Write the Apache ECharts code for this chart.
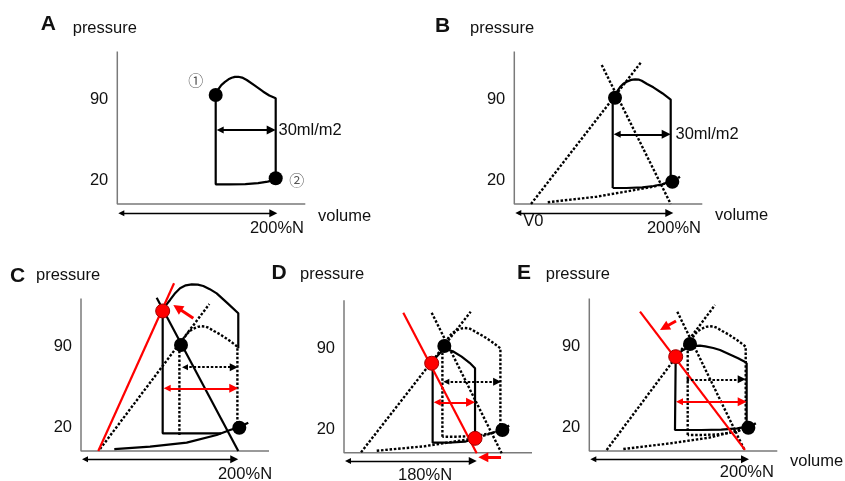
<!DOCTYPE html>
<html>
<head>
<meta charset="utf-8">
<script src="https://cdn.jsdelivr.net/npm/echarts@6.0.0/dist/echarts.min.js"></script>
<style>
html, body { margin: 0; padding: 0; background: #fff; }
#chart { width: 845px; height: 481px; }
</style>
</head>
<body>
<div id="chart"></div>
<script>
// pressure ticks shown on every panel
const yTicks = [20, 90]

// A : baseline loop
const loopA = [[123,94],[126,98.5],[130,102.5],[134.6,105.3],[139,107.5],[143,108.8],[147,109.6],[151.3,109.7],[156,109],[161.8,106.9],[172,102],[182.5,96.8],[190,93.5],[198,91.1],[198,21],[188,19.3],[176,18],[160,17.2],[140,17],[123,17],[123,94]]
const dotsA = [[123,94],[198,22.2]]
const svA = [[123,63.8],[198,63.8]]
const baseA = [[0,-8],[200,-8]]
const labelsA = [[199.6,-21.1,'200%N']]
const marksA = [[98,106.9,'①'],[224.3,20.7,'②']]
const svTextA = [[200.9,63.8,'30ml/m2']]

// reference loop (B, and dotted in C/D/E)
const refLoopTop = [[123,13.8],[123,90],[125,92],[128,96.5],[132,100.6],[136,103.5],[140.5,105.4],[146,107],[151,107.5],[156,107.2],[159.3,106.3],[166,103.5],[173.8,100.6],[185,95.5],[195.5,90],[195.5,19.5]]
const refLoopBottom = [[195.5,19.5],[185,17],[174,15.5],[160,14.3],[140,13.8],[123,13.8]]

// B
const dotsB = [[125.9,91.6],[197.5,19.2]]
const espvrB = [[20.9,0],[158,121.8]]
const eaB = [[109.3,119.8],[195.5,0]]
const edpvrB = [[41.8,1.5],[103,6.3],[173.8,14.9],[197.5,19.2],[207.1,23.5]]
const svB = [[123,60.1],[195.5,60.1]]
const baseB = [[0,-7.8],[198.8,-7.8]]
const labelsB = [[23.8,-14.7,'V0'],[199.6,-20.7,'200%N']]
const svTextB = [[200.9,60.1,'30ml/m2']]

// C : higher contractility
const loopC = [[196.6,88.5],[196.6,118.7],[183,127.5],[169.6,135.9],[161,139.5],[152.9,142.2],[146,143.4],[138.4,143.7],[131,142.8],[123.8,140.3],[117,135.5],[111.3,130.2],[106,125.5],[102.1,120.7],[102.1,15.2],[175,15.2]]
const edpvrC = [[41.6,1.7],[86.3,3.7],[132.1,7.2],[169.6,13.8],[186.3,18.1],[197.9,20.6],[209.1,24.4]]
const espvrC = [[21.6,0],[116.3,144.6]]
const espvrOldC = [[23.8,1.7],[160.4,126.7]]
const eaC = [[94.6,132.2],[196.6,0]]
const dotsC = [[125,91.4],[197.9,20.1]]
const redDotsC = [[102.1,120.7]]
const svOldC = [[125,72.2],[195.9,72.2]]
const svNewC = [[102.1,54],[196.6,54]]
const shiftC = [[140.4,114.4],[115.4,125.9]]
const baseC = [[0,-7.2],[196.6,-7.2]]
const labelsC = [[205,-19.8,'200%N']]

// D : lower preload
const loopD = [[109.6,77.1],[116,83],[122,87.5],[129,89],[136,87.5],[147,82.8],[157,77.5],[163.8,72.8],[163.8,12.4],[151.3,9.5],[130,8.6],[110.8,8.6],[110.8,77]]
const espvrD = [[21.3,0.3],[158.4,121.6]]
const eaD = [[74.1,120.7],[165.9,-0.5]]
const eaOldD = [[109.6,120.7],[197.1,-0.5]]
const edpvrD = [[40.9,1.7],[100,5.5],[163.8,12.4],[198,19.6],[207.5,23.9]]
const dotsD = [[125.4,92],[198,19.6]]
const redDotsD = [[109.6,77.1],[163.8,12.4]]
const svOldD = [[122.9,61.2],[196.4,61.2]]
const svNewD = [[110.9,43.4],[163.8,43.4]]
const shiftD = [[196.3,-4],[167.9,-4]]
const baseD = [[0,-7.2],[165.9,-7.2]]
const labelsD = [[101.3,-19.2,'180%N']]

// E : lower afterload
const loopE = [[196.7,76.1],[186,80],[175,83.5],[163.4,87.1],[155,88.8],[145,90.2],[138.4,90.8],[132,90.6],[126.7,90],[122,88.8],[117.5,87.1],[112,84.5],[108,81.3],[107.1,81.3],[107.1,18.1],[140,18.1],[165,18.5],[185,19.5],[196.7,21],[196.7,76.1]]
const espvrE = [[21.7,0.9],[157.1,125.9]]
const eaE = [[63.4,120.1],[194.6,0.9]]
const eaOldE = [[110,120.1],[194.6,0]]
const edpvrE = [[42.5,1.7],[100,6.5],[150,11.5],[198.8,20.1],[209.2,24.4]]
const dotsE = [[125.9,92.2],[198.8,20.1]]
const redDotsE = [[108,81.3]]
const svOldE = [[121.7,61.8],[195.5,61.8]]
const svNewE = [[107.1,42.5],[196.7,42.5]]
const shiftE = [[108.4,112.1],[88.4,104.3]]
const baseE = [[0,-7.2],[199.6,-7.2]]
const labelsE = [[197,-18.5,'200%N']]

// layout: pixel origin of each panel, px per unit
const origins = [[117.3,204],[514.3,204],[81,451],[344,452.7],[589.3,451]]
const KX = 0.8, KY = 1.16
const X_MAX = 260, Y_MIN = -25, Y_MAX = 150
const AXIS_TOP = 131.5, AXIS_END = 235
const FONT = '"Liberation Sans", Arial, sans-serif'
const BLACK = '#000', RED = '#ff0000', AXIS = '#7a7a7a', INK = '#111'
const DOT = [2.5, 1.8]

const line = (i, data, color, width, type, z) => ({
  type: 'line', xAxisIndex: i, yAxisIndex: i, data, symbol: 'none', clip: false,
  silent: true, z: z || 2,
  lineStyle: { color, width, type: type || 'solid', cap: 'butt', opacity: 1 }
})

const dots = (i, data, color) => ({
  type: 'scatter', xAxisIndex: i, yAxisIndex: i, data, symbolSize: 14, clip: false,
  silent: true, z: 6,
  itemStyle: color === RED
    ? { color: RED, borderColor: '#a00000', borderWidth: 1, opacity: 1 }
    : { color: BLACK, opacity: 1 }
})

// pull the ends back so arrow tips land on the read points
const inset = (seg, head, both) => {
  const [a, b] = seg
  const len = Math.hypot((b[0] - a[0]) * KX, (b[1] - a[1]) * KY)
  const k = head / 2 / len
  const ux = (b[0] - a[0]) * k, uy = (b[1] - a[1]) * k
  return [both ? [a[0] + ux, a[1] + uy] : a, [b[0] - ux, b[1] - uy]]
}

const arrow = (i, seg, color, width, both, size, type) => ({
  type: 'lines', coordinateSystem: 'cartesian2d', xAxisIndex: i, yAxisIndex: i,
  silent: true, z: 4,
  symbol: both ? ['triangle', 'triangle'] : ['none', 'triangle'],
  symbolSize: size,
  lineStyle: { color, width, type: type || 'solid', opacity: 1, curveness: 0 },
  data: [{ coords: inset(seg, size[1], both) }]
})

const texts = (i, data, opts) => ({
  type: 'scatter', xAxisIndex: i, yAxisIndex: i, clip: false, silent: true, z: 7,
  symbolSize: 1, itemStyle: { color: 'rgba(0,0,0,0)', opacity: 1 },
  data: data.map(d => ({ value: [d[0], d[1]], name: d[2] })),
  label: Object.assign({
    show: true, formatter: '{b}', position: 'inside', color: INK, opacity: 1,
    textBorderWidth: 0, textShadowBlur: 0, fontSize: 16.5, fontFamily: FONT
  }, opts || {})
})

const axes = i => line(i, [[0, AXIS_TOP], [0, 0], [AXIS_END, 0]], AXIS, 1.5, 'solid', 1)

const series = [
  // A
  axes(0),
  line(0, loopA, BLACK, 2.2),
  dots(0, dotsA, BLACK),
  arrow(0, svA, BLACK, 2, true, [7, 9]),
  arrow(0, baseA, BLACK, 1.3, true, [6, 8]),
  texts(0, labelsA),
  texts(0, marksA, { fontFamily: '"Noto Sans CJK JP", "DejaVu Sans"', fontSize: 15, color: '#555' }),
  texts(0, svTextA, { position: 'right', distance: 0 }),
  // B
  axes(1),
  line(1, refLoopTop.concat(refLoopBottom), BLACK, 2.2),
  line(1, espvrB, BLACK, 2.4, DOT),
  line(1, eaB, BLACK, 2.4, DOT),
  line(1, edpvrB, BLACK, 2.4, DOT),
  dots(1, dotsB, BLACK),
  arrow(1, svB, BLACK, 2, true, [7, 9]),
  arrow(1, baseB, BLACK, 1.3, true, [6, 8]),
  texts(1, labelsB),
  texts(1, svTextB, { position: 'right', distance: 0 }),
  // C
  axes(2),
  line(2, loopC, BLACK, 2.2),
  line(2, edpvrC, BLACK, 2.2),
  line(2, refLoopTop, BLACK, 2.4, DOT),
  line(2, espvrOldC, BLACK, 2.4, DOT),
  line(2, eaC, BLACK, 2.2),
  line(2, espvrC, RED, 2.2, 'solid', 3),
  dots(2, dotsC, BLACK),
  dots(2, redDotsC, RED),
  arrow(2, svOldC, BLACK, 2.2, true, [6, 8], DOT),
  arrow(2, svNewC, RED, 2, true, [7, 9]),
  arrow(2, shiftC, RED, 3, false, [9, 10]),
  arrow(2, baseC, BLACK, 1.3, true, [6, 8]),
  texts(2, labelsC),
  // D
  axes(3),
  line(3, loopD, BLACK, 2.2),
  line(3, refLoopTop.concat(refLoopBottom), BLACK, 2.4, DOT),
  line(3, espvrD, BLACK, 2.4, DOT),
  line(3, eaOldD, BLACK, 2.4, DOT),
  line(3, edpvrD, BLACK, 2.4, DOT),
  line(3, eaD, RED, 2.2, 'solid', 3),
  dots(3, dotsD, BLACK),
  dots(3, redDotsD, RED),
  arrow(3, svOldD, BLACK, 2.2, true, [6, 8], DOT),
  arrow(3, svNewD, RED, 2, true, [7, 9]),
  arrow(3, shiftD, RED, 3, false, [9, 10]),
  arrow(3, baseD, BLACK, 1.3, true, [6, 8]),
  texts(3, labelsD),
  // E
  axes(4),
  line(4, loopE, BLACK, 2.2),
  line(4, refLoopTop.concat(refLoopBottom), BLACK, 2.4, DOT),
  line(4, espvrE, BLACK, 2.4, DOT),
  line(4, eaOldE, BLACK, 2.4, DOT),
  line(4, edpvrE, BLACK, 2.4, DOT),
  line(4, eaE, RED, 2.2, 'solid', 3),
  dots(4, dotsE, BLACK),
  dots(4, redDotsE, RED),
  arrow(4, svOldE, BLACK, 2.2, false, [6, 8], DOT),
  arrow(4, svNewE, RED, 2, true, [7, 9]),
  arrow(4, shiftE, RED, 3, false, [9, 10]),
  arrow(4, baseE, BLACK, 1.3, true, [6, 8]),
  texts(4, labelsE)
]

// panel letters and axis names
const captions = [
  ['A', 48.3, 24.5, true], ['pressure', 72.7, 28.3], ['volume', 318, 216],
  ['B', 442.5, 25.8, true], ['pressure', 470, 28.3], ['volume', 715, 215],
  ['C', 17.5, 276, true], ['pressure', 36, 275],
  ['D', 279, 273.5, true], ['pressure', 300, 274.7],
  ['E', 524, 273.5, true], ['pressure', 545.7, 274.7], ['volume', 790, 461]
]

const chart = echarts.init(document.getElementById('chart'), null, { renderer: 'canvas' })
chart.setOption({
  backgroundColor: '#fff',
  animation: false,
  grid: origins.map(o => ({
    left: o[0], top: o[1] - Y_MAX * KY,
    width: X_MAX * KX, height: (Y_MAX - Y_MIN) * KY,
    containLabel: false, outerBoundsMode: 'none'
  })),
  xAxis: origins.map((o, i) => ({
    type: 'value', gridIndex: i, min: 0, max: X_MAX,
    axisLine: { show: false }, axisTick: { show: false },
    axisLabel: { show: false }, splitLine: { show: false }
  })),
  yAxis: origins.map((o, i) => ({
    type: 'value', gridIndex: i, min: Y_MIN, max: Y_MAX,
    axisLine: { show: false }, axisTick: { show: false }, splitLine: { show: false },
    axisLabel: { show: true, customValues: yTicks, margin: 9, fontSize: 16.5, color: INK, fontFamily: FONT }
  })),
  graphic: captions.map(c => ({
    type: 'text', x: c[1], y: c[2], silent: true,
    style: {
      text: c[0], fill: INK,
      font: (c[3] ? 'bold 21px ' : '16.5px ') + FONT,
      align: c[3] ? 'center' : 'left', verticalAlign: 'middle'
    }
  })),
  series
})
</script>
</body>
</html>
